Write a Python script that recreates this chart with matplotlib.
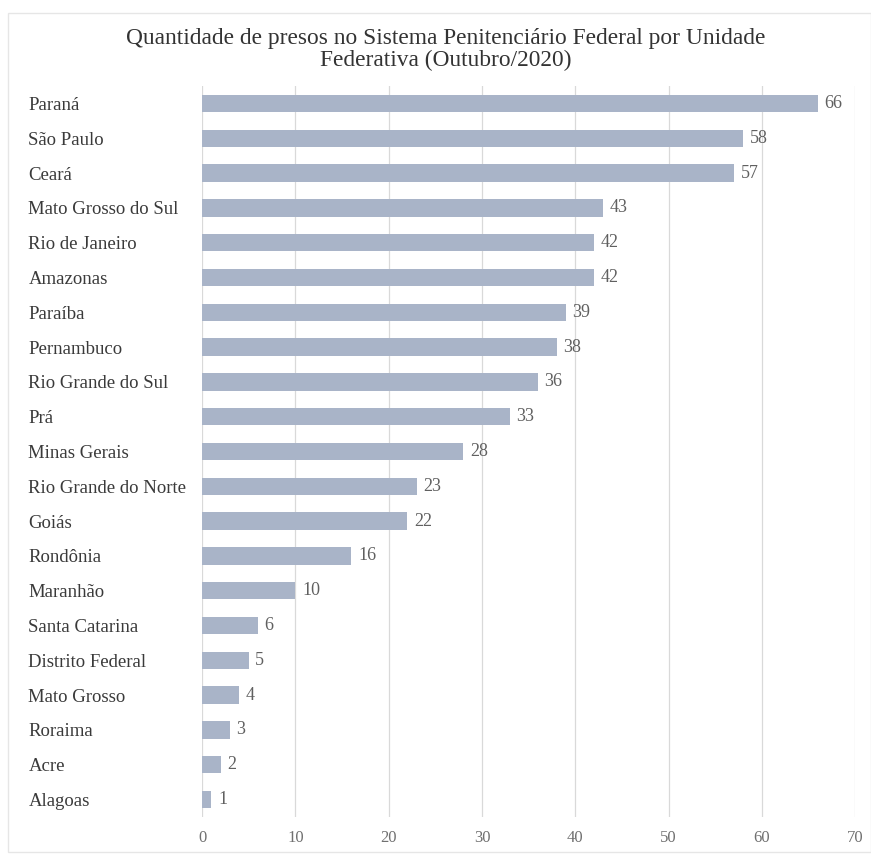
import matplotlib.pyplot as plt
from matplotlib.patches import Rectangle

# data (top to bottom as shown)
states = ['Paraná', 'São Paulo', 'Ceará', 'Mato Grosso do Sul', 'Rio de Janeiro',
          'Amazonas', 'Paraíba', 'Pernambuco', 'Rio Grande do Sul', 'Prá',
          'Minas Gerais', 'Rio Grande do Norte', 'Goiás', 'Rondônia', 'Maranhão',
          'Santa Catarina', 'Distrito Federal', 'Mato Grosso', 'Roraima', 'Acre',
          'Alagoas']
presos = [66, 58, 57, 43, 42, 42, 39, 38, 36, 33, 28, 23, 22, 16, 10, 6, 5, 4, 3, 2, 1]
xticks = [0, 10, 20, 30, 40, 50, 60, 70]
title = 'Quantidade de presos no Sistema Penitenciário Federal por Unidade\nFederativa (Outubro/2020)'

bar_color = '#a9b4c8'
grid_color = '#d9d9d9'

plt.rcParams['font.family'] = ['Liberation Serif', 'DejaVu Serif']

fig = plt.figure(figsize=(8.71, 8.63), dpi=100)
ax = fig.add_axes([0.232, 1 - 817/863, 0.982 - 0.232, (817 - 86)/863])

pos = list(range(len(states)))
ax.barh(pos, presos, height=0.5, color=bar_color, zorder=2)
for y, v in zip(pos, presos):
    ax.text(v + 0.7, y, str(v), va='center', ha='left', fontsize=13,
            color='#606060')

ax.set_ylim(len(states) - 0.5, -0.5)
ax.set_xlim(0, 70)
ax.set_xticks(xticks)
ax.set_xticklabels([str(t) for t in xticks], fontsize=12, color='#707070')
ax.set_yticks(pos)
ax.set_yticklabels(states, fontsize=13.5, color='#3a3a3a', ha='left')
ax.tick_params(axis='y', length=0, pad=125)
ax.tick_params(axis='x', length=0, pad=9)
ax.grid(axis='x', color=grid_color, linewidth=0.9, zorder=0)
for s in ax.spines.values():
    s.set_visible(False)

fig.text(0.512, 0.968, title, ha='center', va='top', fontsize=16.8,
         color='#333333', linespacing=1.05)

# light frame around the chart
fig.patches.append(Rectangle((8/871, 1 - 852/863), 1 - 8/871, (852 - 13)/863,
                             transform=fig.transFigure, fill=False,
                             edgecolor='#e6e6e6', linewidth=1))

fig.savefig('out.png', dpi=100)
